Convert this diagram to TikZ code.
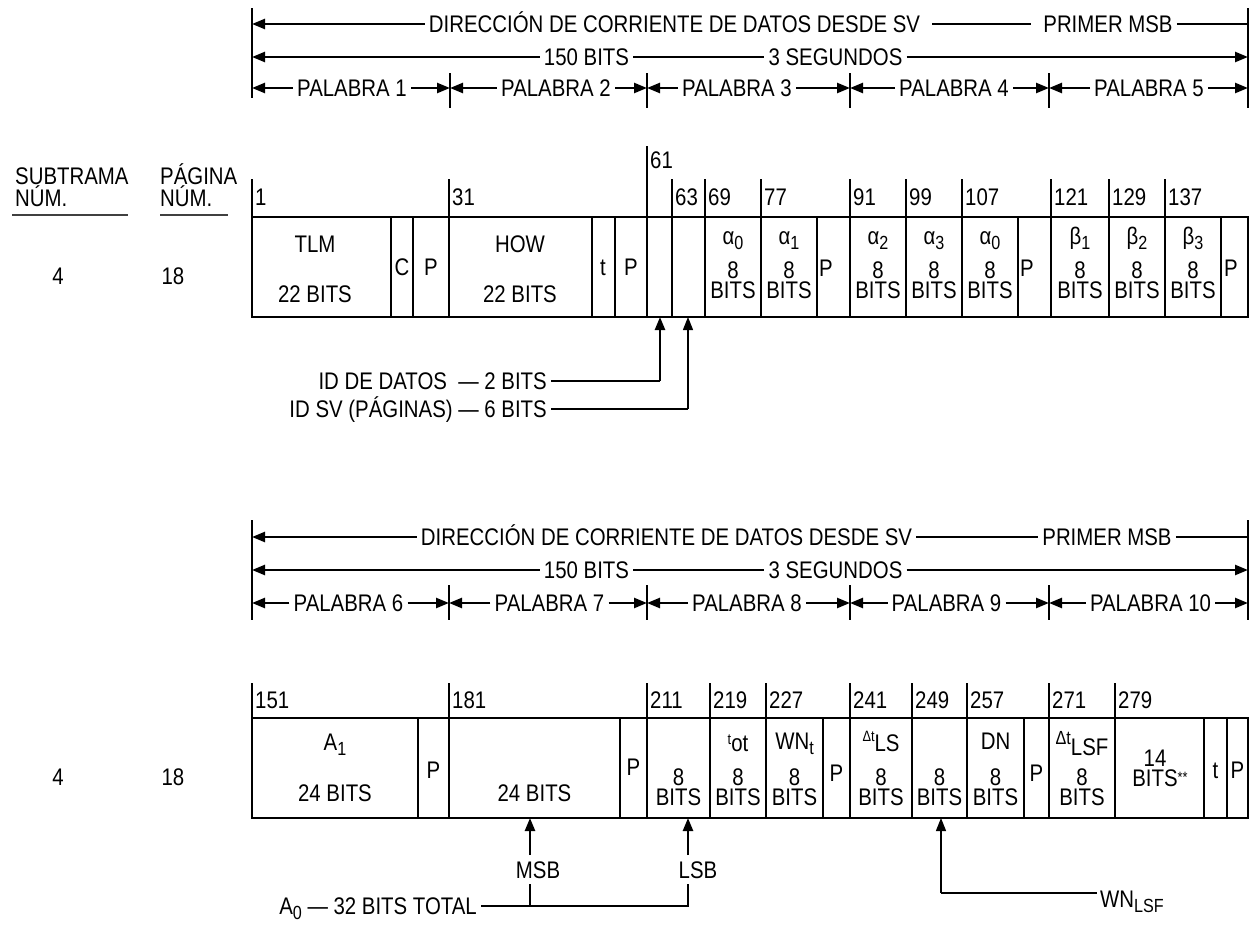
\documentclass[tikz,border=0pt]{standalone}
\usepackage{fontspec}
\setmainfont{Liberation Sans}[FakeStretch=0.85]
\usetikzlibrary{arrows.meta}
\newcommand{\lsub}[1]{\raisebox{-5pt}{\fontsize{19}{19}\selectfont #1}}
\newcommand{\ssup}[1]{\raisebox{7pt}{\fontsize{15}{15}\selectfont #1}}
\newcommand{\eightbits}[3]{\node[stack] (#1) at (#2,#3+10) {8\\BITS};}
\begin{document}
\begin{tikzpicture}[x=1pt,y=-1pt,
  font=\fontsize{24}{26}\selectfont,
  lbl/.style={inner xsep=4pt,inner ysep=0pt,text height=17pt,text depth=0pt},
  stack/.style={inner sep=0pt,align=center,font=\fontsize{24}{20}\selectfont},
  num/.style={lbl,anchor=west,inner xsep=3pt},
  ln/.style={line width=1.3pt},
  bold/.style={line width=2.4pt},
  arr/.style={-{Triangle[length=13pt,width=10pt]}},
  boxline/.style={line width=1.5pt},
  edgeline/.style={line width=2pt}]
\useasboundingbox (0,0) rectangle (1251,926);

% ---------------- header 1 ----------------
\coordinate (a1L) at (252,8); \coordinate (a1R) at (1248,8);
\draw[edgeline] (252,8) -- (252,98);
\draw[edgeline] (1248,8) -- (1248,108);
\foreach \x in {450,647,850,1049} \draw[ln] (\x,73) -- (\x,108);
\node[lbl] (a1t) at (674.5,24) {DIRECCIÓN DE CORRIENTE DE DATOS DESDE SV};
\node[lbl] (a1m) at (1108,24) {PRIMER MSB};
\draw[bold,arr] (a1t.west) -- (a1t.west -| a1L);
\draw[ln,shorten <=8pt,shorten >=8pt] (a1t.east) -- (a1m.west);
\draw[ln] (a1m.east) -- (a1m.east -| a1R);
\node[lbl] (a1b) at (586.5,57) {150 BITS};
\node[lbl] (a1s) at (835.5,57) {3 SEGUNDOS};
\draw[bold,arr] (a1b.west) -- (a1b.west -| a1L);
\draw[ln] (a1b.east) -- (a1s.west);
\draw[bold,arr] (a1s.east) -- (a1s.east -| a1R);
\foreach \i/\x in {0/252,1/450,2/647,3/850,4/1049,5/1248} \coordinate (a1d\i) at (\x,88);
\foreach \i/\c/\l/\r in {1/352/0/1,2/556/1/2,3/737/2/3,4/954/3/4,5/1149/4/5} {
  \node[lbl] (a1w\i) at (\c,88) {PALABRA \i};
  \draw[bold,arr] (a1w\i.west) -- (a1d\l);
  \draw[bold,arr] (a1w\i.east) -- (a1d\r);
}

% ---------------- frame 1 ----------------
\node[lbl,anchor=west,inner xsep=0pt] (st1) at (15,176) {SUBTRAMA};
\node[lbl,anchor=west,inner xsep=0pt] (st2) at (15,198) {NÚM.};
\draw[ln,black!75] (12,215) -- (128,215);
\node[lbl,anchor=west,inner xsep=0pt] (pg1) at (160,176) {PÁGINA};
\node[lbl,anchor=west,inner xsep=0pt] (pg2) at (160,198) {NÚM.};
\draw[ln,black!75] (160,215) -- (228,215);
\node[lbl] (sf1) at (58,276) {4};
\node[lbl] (pf1) at (173,276) {18};

\draw[boxline] (252,217) rectangle (1248,317);
\foreach \x in {391,413,449,592,615,647,672,705,761,817,850,906,962,1018,1051,1109,1165,1221}
  \draw[boxline] (\x,217) -- (\x,317);
\foreach \x/\n in {252/1,449/31,672/63,705/69,761/77,850/91,906/99,962/107,1051/121,1109/129,1165/137} {
  \draw[boxline] (\x,179) -- (\x,217);
  \node[num] (n\n) at (\x,197) {\n};
}
\draw[boxline] (647,146) -- (647,217);
\node[num] (n61) at (647,160) {61};

\node[lbl] (tlm) at (315,244) {TLM};
\node[lbl] (tlmb) at (315,294) {22 BITS};
\node[lbl] (cc) at (402,267) {C};
\node[lbl] (p1) at (431,267) {P};
\node[lbl] (how) at (520,244) {HOW};
\node[lbl] (howb) at (520,294) {22 BITS};
\node[lbl] (tt1) at (603,267) {t};
\node[lbl] (p2) at (631,267) {P};
\node[lbl] (al0) at (733,236) {α\lsub{0}};
\eightbits{c69}{733}{270}
\node[lbl] (al1) at (789,236) {α\lsub{1}};
\eightbits{c77}{789}{270}
\node[lbl,anchor=west,inner xsep=1pt] (p3) at (818,268) {P};
\node[lbl] (al2) at (878,236) {α\lsub{2}};
\eightbits{c91}{878}{270}
\node[lbl] (al3) at (934,236) {α\lsub{3}};
\eightbits{c99}{934}{270}
\node[lbl] (al4) at (990,236) {α\lsub{0}};
\eightbits{c107}{990}{270}
\node[lbl,anchor=west,inner xsep=1pt] (p4) at (1019,268) {P};
\node[lbl] (be1) at (1080,236) {β\lsub{1}};
\eightbits{c121}{1080}{270}
\node[lbl] (be2) at (1137,236) {β\lsub{2}};
\eightbits{c129}{1137}{270}
\node[lbl] (be3) at (1193,236) {β\lsub{3}};
\eightbits{c137}{1193}{270}
\node[lbl,anchor=west,inner xsep=1pt] (p5) at (1223,268) {P};

% ID annotations
\node[lbl,anchor=east] (id1) at (551,381) {ID DE DATOS \ — 2 BITS};
\node[lbl,anchor=east] (id2) at (551,409) {ID SV (PÁGINAS) — 6 BITS};
\coordinate (id1c) at (660,381); \coordinate (id1t) at (660,317);
\coordinate (id2c) at (688,409); \coordinate (id2t) at (688,317);
\draw[ln] (id1.east) -- (id1c);
\draw[bold,arr] (id1c) -- (id1t);
\draw[ln] (id2.east) -- (id2c);
\draw[ln,arr] (id2c) -- (id2t);

% ---------------- header 2 ----------------
\coordinate (a2L) at (252,520); \coordinate (a2R) at (1248,520);
\draw[edgeline] (252,520) -- (252,620);
\draw[edgeline] (1248,520) -- (1248,620);
\foreach \x in {449,647,850,1049} \draw[ln] (\x,585) -- (\x,620);
\node[lbl] (a2t) at (666.5,537) {DIRECCIÓN DE CORRIENTE DE DATOS DESDE SV};
\node[lbl] (a2m) at (1107,537) {PRIMER MSB};
\draw[bold,arr] (a2t.west) -- (a2t.west -| a2L);
\draw[ln] (a2t.east) -- (a2m.west);
\draw[ln] (a2m.east) -- (a2m.east -| a2R);
\node[lbl] (a2b) at (586.5,570) {150 BITS};
\node[lbl] (a2s) at (835.5,570) {3 SEGUNDOS};
\draw[bold,arr] (a2b.west) -- (a2b.west -| a2L);
\draw[ln] (a2b.east) -- (a2s.west);
\draw[bold,arr] (a2s.east) -- (a2s.east -| a2R);
\foreach \i/\x in {0/252,1/449,2/647,3/850,4/1049,5/1248} \coordinate (a2d\i) at (\x,603);
\foreach \i/\c/\l/\r in {6/348.5/0/1,7/549.5/1/2,8/747/2/3,9/946.5/3/4,10/1150.5/4/5} {
  \node[lbl] (a2w\i) at (\c,603) {PALABRA \i};
  \draw[bold,arr] (a2w\i.west) -- (a2d\l);
  \draw[bold,arr] (a2w\i.east) -- (a2d\r);
}

% ---------------- frame 2 ----------------
\node[lbl] (sf2) at (58,777) {4};
\node[lbl] (pf2) at (173,777) {18};
\draw[boxline] (252,718) rectangle (1248,818);
\foreach \x in {418,449,620,647,710,766,823,850,912,967,1024,1049,1115,1204,1227}
  \draw[boxline] (\x,718) -- (\x,818);
\foreach \x/\n in {252/151,449/181,647/211,710/219,766/227,850/241,912/249,967/257,1049/271,1115/279} {
  \draw[boxline] (\x,683) -- (\x,718);
  \node[num] (m\n) at (\x,700) {\n};
}
\node[lbl] (aa1) at (335,742) {A\lsub{1}};
\node[lbl] (aa1b) at (335,793) {24 BITS};
\node[lbl] (q1) at (433.5,770) {P};
\node[lbl] (aa0b) at (534.5,793) {24 BITS};
\node[lbl] (q2) at (633.5,767) {P};
\eightbits{d211}{678.5}{777}
\node[lbl] (tot) at (738,743) {\ssup{t}ot};
\eightbits{d219}{738}{777}
\node[lbl] (wnt) at (794.5,741) {WN\lsub{t}};
\eightbits{d227}{794.5}{777}
\node[lbl] (q3) at (836.5,773) {P};
\node[lbl] (dtls) at (881,740) {\ssup{Δt}\raisebox{-3pt}{LS}};
\eightbits{d241}{881}{777}
\eightbits{d249}{939.5}{777}
\node[lbl] (dn) at (995.5,741) {DN};
\eightbits{d257}{995.5}{777}
\node[lbl] (q4) at (1036.5,773) {P};
\node[lbl,inner xsep=1pt] (dtlsf) at (1082,741) {\raisebox{5pt}{\fontsize{19}{19}\selectfont Δt}\raisebox{-6pt}{LSF}};
\eightbits{d271}{1082}{777}
\node[stack] (f14) at (1155,768) {14\\BITS\rlap{\raisebox{4pt}{\fontsize{15}{15}\selectfont **}}};
\node[lbl] (tt2) at (1215.5,770) {t};
\node[lbl] (q5) at (1237.5,770) {P};

% bottom annotations
\node[lbl] (msb) at (538,870) {MSB};
\node[lbl] (lsb) at (698,870) {LSB};
\node[lbl,anchor=east] (a0) at (481,906) {A\lsub{0} — 32 BITS TOTAL};
\coordinate (msbt) at (530,818); \coordinate (msbs) at (530,855);
\coordinate (msbb) at (530,884); \coordinate (msbj) at (530,906);
\coordinate (lsbt) at (688,818); \coordinate (lsbs) at (688,855);
\coordinate (lsbb) at (688,884); \coordinate (lsbj) at (688,906);
\draw[bold,arr] (msbs) -- (msbt);
\draw[bold,arr] (lsbs) -- (lsbt);
\draw[ln] (a0.east) -- (lsbj) -- (lsbb);
\draw[ln] (msbj) -- (msbb);
\node[lbl,anchor=west,inner xsep=3pt] (wn) at (1097,899) {WN\lsub{LSF}};
\coordinate (wnt0) at (941,818); \coordinate (wnc) at (941,893);
\draw[ln,arr] (wnc) -- (wnt0);
\draw[ln] (wnc) -- (wnc -| wn.west);
\end{tikzpicture}
\end{document}
